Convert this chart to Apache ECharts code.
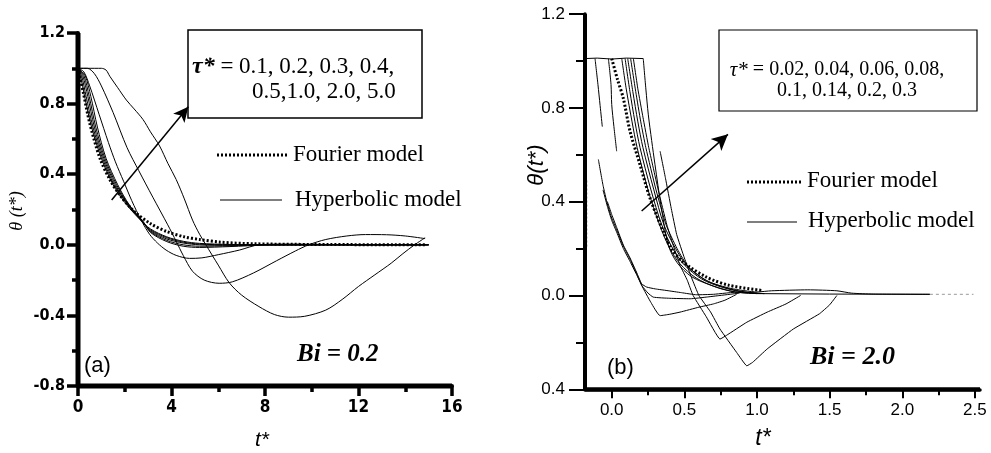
<!DOCTYPE html>
<html><head><meta charset="utf-8">
<script src="https://cdn.jsdelivr.net/npm/echarts@6/dist/echarts.min.js"></script>
<style>html,body{margin:0;padding:0;background:#fff}#c{width:991px;height:453px}</style>
</head><body><div id="c"></div>
<script>
// ---------- Panel (a): Bi = 0.2 ----------
var aXLabels = [0, 4, 8, 12, 16];
var aYLabels = [-0.8, -0.4, 0.0, 0.4, 0.8, 1.2];
var aFourier = [[0,1.0],[0.1,0.94],[0.23,0.86],[0.5,0.69],[0.94,0.49],[1.4,0.36],[1.8,0.28],[2.4,0.19],[3.1,0.12],[3.8,0.075],[4.55,0.045],[5.2,0.03],[6.1,0.015],[7.5,0.006],[10,0.002],[14.85,0.0]];
var aTau01 = [[0,1.0],[0.1,0.96],[0.3,0.83],[0.58,0.667],[1.0,0.49],[1.5,0.34],[2.0,0.24],[2.6,0.15],[3.1,0.09],[3.8,0.045],[4.5,0.02],[5.2,0.008],[6.5,0.002],[8,0.0],[15,0.0]];
var aTau02 = [[0,1.0],[0.15,0.96],[0.35,0.84],[0.64,0.667],[1.05,0.49],[1.55,0.34],[2.05,0.24],[2.65,0.145],[3.1,0.085],[3.8,0.04],[4.5,0.015],[5.2,0.004],[6.5,0.0],[15,0.0]];
var aTau03 = [[0,1.0],[0.2,0.96],[0.42,0.84],[0.70,0.667],[1.1,0.49],[1.6,0.34],[2.1,0.235],[2.7,0.14],[3.1,0.08],[3.8,0.033],[4.5,0.01],[5.2,0.0],[6.5,-0.003],[8,0.0],[15,0.0]];
var aTau04 = [[0,1.0],[0.25,0.96],[0.48,0.84],[0.76,0.667],[1.15,0.49],[1.65,0.34],[2.15,0.23],[2.75,0.135],[3.1,0.075],[3.8,0.025],[4.5,0.0],[5.2,-0.008],[6.5,-0.006],[8,0.0],[15,0.0]];
var aTau05 = [[0,1.0],[0.3,0.96],[0.55,0.84],[0.83,0.667],[1.2,0.49],[1.7,0.34],[2.2,0.225],[2.8,0.13],[3.1,0.07],[3.8,0.018],[4.5,-0.008],[5.2,-0.015],[6.5,-0.01],[8,-0.002],[10,0.0],[15,0.0]];
var aTau10 = [[0,1.0],[0.25,0.98],[0.5,0.9],[0.9,0.74],[1.3,0.58],[1.6,0.47],[1.95,0.36],[2.3,0.25],[2.7,0.14],[3.06,0.06],[3.4,0.01],[3.77,-0.03],[4.2,-0.06],[4.77,-0.077],[5.3,-0.074],[6.0,-0.056],[6.9,-0.03],[7.75,0.0],[9,0.004],[12,0.0],[15,0.0]];
var aTau20 = [[0,1.0],[0.4,1.0],[0.7,0.97],[1.0,0.9],[1.5,0.75],[2.1,0.55],[2.6,0.42],[3.2,0.27],[3.84,0.113],[4.2,0.02],[4.5,-0.06],[4.9,-0.15],[5.4,-0.2],[6.04,-0.218],[6.6,-0.21],[7.5,-0.16],[8.5,-0.09],[9.3,-0.035],[9.87,0.0],[10.6,0.03],[11.5,0.05],[12.3,0.058],[13.2,0.057],[14.0,0.05],[14.85,0.035]];
var aTau50 = [[0,1.0],[1.0,1.0],[1.2,0.99],[1.36,0.955],[1.7,0.89],[2.07,0.82],[2.4,0.77],[2.78,0.71],[3.1,0.64],[3.49,0.56],[3.85,0.46],[4.2,0.37],[4.55,0.26],[4.9,0.14],[5.2,0.06],[5.47,0.0],[6.0,-0.115],[6.47,-0.215],[7.0,-0.285],[7.74,-0.35],[8.4,-0.395],[9.0,-0.41],[9.7,-0.405],[10.6,-0.37],[11.3,-0.31],[12.0,-0.236],[12.7,-0.17],[13.4,-0.104],[13.9,-0.05],[14.4,0.0],[14.85,0.04]];

// ---------- Panel (b): Bi = 2.0 ----------
var bXLabels = [0.0, 0.5, 1.0, 1.5, 2.0, 2.5];
var bXMinor = [0.25, 0.75, 1.25, 1.75, 2.25];
var bYValues = [-0.4, 0.0, 0.4, 0.8, 1.2];
var bYTickLabels = ['0.4', '0.0', '0.4', '0.8', '1.2'];
var bFlatTop = [[-0.184,1.01],[-0.1,1.012],[0.0,1.008],[0.1,1.012],[0.217,1.01]];
var bFourier = [[0.0,1.01],[0.04,0.92],[0.08,0.84],[0.126,0.70],[0.195,0.557],[0.264,0.414],[0.355,0.272],[0.41,0.2],[0.49,0.143],[0.65,0.079],[0.81,0.043],[1.04,0.021]];
var bFourierEdge = [[-0.176,0.49],[-0.176,0.2]];
var bFourierTail = [[2.19,0.005],[2.49,0.005]];
var bLeftA = [[-0.115,1.01],[-0.095,0.90],[-0.08,0.81],[-0.065,0.72]];
var bLeftB = [[-0.023,1.01],[-0.005,0.90],[0.0,0.814],[0.015,0.72],[0.034,0.615]];
var bLeftC = [[-0.092,0.58],[-0.06,0.47],[-0.03,0.39],[0.0,0.33],[0.034,0.28],[0.08,0.21],[0.126,0.155],[0.17,0.095],[0.206,0.043],[0.27,-0.03],[0.333,-0.086],[0.40,-0.08],[0.47,-0.071],[0.60,-0.05],[0.70,-0.036],[0.78,-0.02],[0.86,0.005]];
var bLeftD = [[-0.06,0.45],[-0.03,0.38],[0.0,0.32],[0.034,0.27],[0.08,0.20],[0.126,0.145],[0.17,0.09],[0.21,0.04],[0.25,0.01],[0.286,-0.007],[0.40,-0.012],[0.54,-0.014],[0.65,-0.007],[0.745,0.0],[0.88,0.01]];
var bLeftE = [[-0.03,0.40],[0.0,0.345],[0.034,0.29],[0.08,0.215],[0.126,0.16],[0.17,0.10],[0.206,0.05],[0.24,0.036],[0.30,0.028],[0.38,0.021],[0.48,0.012],[0.585,0.003],[0.70,0.005],[0.88,0.015],[1.0,0.01]];
var bMid1 = [[0.069,1.01],[0.10,0.88],[0.14,0.74],[0.175,0.63],[0.25,0.45],[0.33,0.30],[0.40,0.20],[0.47,0.135],[0.58,0.075],[0.72,0.035],[0.85,0.015],[1.0,0.008]];
var bMid2 = [[0.092,1.01],[0.125,0.87],[0.16,0.74],[0.195,0.63],[0.27,0.45],[0.345,0.30],[0.42,0.20],[0.50,0.13],[0.62,0.07],[0.76,0.035],[0.9,0.015],[1.05,0.008]];
var bMid3 = [[0.11,1.01],[0.145,0.87],[0.18,0.74],[0.215,0.63],[0.29,0.45],[0.36,0.30],[0.44,0.20],[0.52,0.125],[0.65,0.065],[0.80,0.03],[0.95,0.012],[1.05,0.008]];
var bMid4 = [[0.13,1.01],[0.165,0.87],[0.2,0.74],[0.235,0.63],[0.305,0.45],[0.375,0.30],[0.45,0.2],[0.53,0.12],[0.66,0.06],[0.82,0.03],[1.0,0.015],[1.1,0.02],[1.35,0.024],[1.55,0.02],[1.65,0.01],[1.8,0.006],[2.19,0.005]];
var bTop5 = [[0.217,1.01],[0.235,0.88],[0.252,0.77],[0.275,0.66],[0.298,0.557],[0.34,0.38],[0.39,0.214],[0.45,0.14],[0.55,0.08],[0.7,0.04],[0.85,0.015],[1.0,0.008]];
var bDeep1 = [[0.149,1.01],[0.18,0.88],[0.215,0.76],[0.255,0.63],[0.32,0.45],[0.38,0.30],[0.42,0.22],[0.47,0.129],[0.52,0.065],[0.56,0.0],[0.65,-0.09],[0.745,-0.186],[0.79,-0.17],[0.93,-0.114],[1.07,-0.071],[1.2,-0.036],[1.30,0.0]];
var bDeep2 = [[0.333,0.615],[0.37,0.50],[0.41,0.37],[0.447,0.26],[0.50,0.16],[0.55,0.075],[0.60,0.0],[0.68,-0.07],[0.745,-0.143],[0.86,-0.243],[0.93,-0.30],[0.97,-0.285],[1.07,-0.228],[1.25,-0.143],[1.43,-0.078],[1.5,-0.04],[1.55,0.0]];
var bZeroTail = [[1.0,0.008],[1.5,0.006],[2.19,0.005]];

// ---------- axis ranges ----------
var A_X = [0, 16], A_Y = [-0.8, 1.2];
var B_X = [-0.184, 2.535], B_Y = [-0.4, 1.2];

// ---------- build ----------
var narrow = "'Liberation Sans Narrow','DejaVu Sans Condensed',sans-serif";
var sans = "'Liberation Sans',Arial,sans-serif";
var serif = "'Liberation Serif','Times New Roman',serif";
var INK = '#000';

function ln(data, xi, yi, opt) {
  opt = opt || {};
  return {
    type: 'line', data: data, xAxisIndex: xi, yAxisIndex: yi,
    showSymbol: false, symbol: 'none', silent: true, animation: false,
    smooth: opt.smooth === undefined ? 0.3 : opt.smooth,
    clip: opt.clip === undefined ? true : opt.clip,
    z: opt.z || 2,
    lineStyle: { color: opt.color || INK, width: opt.width || 1, type: opt.type || 'solid' }
  };
}
var dotted = { width: 3, type: [2, 2], z: 3 };

var series = [
  ln(aTau01,0,0), ln(aTau02,0,0), ln(aTau03,0,0), ln(aTau04,0,0), ln(aTau05,0,0),
  ln(aTau10,0,0), ln(aTau20,0,0), ln(aTau50,0,0),
  ln(aFourier,0,0,dotted),
  ln(bFlatTop,1,1,{smooth:false}),
  ln(bLeftA,1,1), ln(bLeftB,1,1), ln(bLeftC,1,1,{smooth:0.15}), ln(bLeftD,1,1,{smooth:0.15}), ln(bLeftE,1,1,{smooth:0.15}),
  ln(bMid1,1,1), ln(bMid2,1,1), ln(bMid3,1,1), ln(bMid4,1,1,{smooth:0.2}), ln(bTop5,1,1),
  ln(bDeep1,1,1,{smooth:0.1}), ln(bDeep2,1,1,{smooth:0.1}),
  ln(bZeroTail,1,1,{smooth:false}),
  ln(bFourier,1,1,dotted),
  ln(bFourierEdge,1,1,{width:2,type:[2,2],smooth:false}),
  ln(bFourierTail,1,1,{width:1,type:[3,3],color:'#999',smooth:false}),
  // heavy axis frame lines (drawn along the axis ranges)
  ln([[A_X[0], A_Y[1]], [A_X[0], A_Y[0]], [A_X[1], A_Y[0]]], 0, 0, { width: 5, smooth: false, clip: false, z: 5 }),
  ln([[B_X[0], B_Y[1]], [B_X[0], B_Y[0]], [B_X[1], B_Y[0]]], 1, 1, { width: 4, smooth: false, clip: false, z: 5 })
];

// arrows (annotation, in data coordinates)
series.push({
  type: 'line', data: [[1.44, 0.254]], xAxisIndex: 0, yAxisIndex: 0, showSymbol: false, symbol: 'none',
  silent: true, animation: false, lineStyle: { width: 0 },
  markLine: { silent: true, animation: false, symbol: ['none', 'arrow'], symbolSize: [11, 15],
    label: { show: false }, lineStyle: { color: INK, width: 1.5, type: 'solid' },
    data: [[{ coord: [1.44, 0.254] }, { coord: [4.72, 0.782] }]] }
});
series.push({
  type: 'line', data: [[0.206, 0.36]], xAxisIndex: 1, yAxisIndex: 1, showSymbol: false, symbol: 'none',
  silent: true, animation: false, lineStyle: { width: 0 },
  markLine: { silent: true, animation: false, symbol: ['none', 'arrow'], symbolSize: [12, 16],
    label: { show: false }, lineStyle: { color: INK, width: 1.5, type: 'solid' },
    data: [[{ coord: [0.206, 0.36] }, { coord: [0.80, 0.687] }]] }
});

function txt(x, y, text, font, rot) {
  var s = { x: 0, y: 0, text: text, fill: INK, verticalAlign: 'middle', align: 'left' };
  for (var k in font) s[k] = font[k];
  return { type: 'text', x: x, y: y, rotation: rot || 0, style: s, silent: true, z: 10 };
}
function fmt1(v) { return Number(v).toFixed(1); }

var option = {
  animation: false,
  grid: [
    { left: 78, top: 33, width: 374, height: 353 },
    { left: 585, top: 14, width: 395, height: 375.3 }
  ],
  xAxis: [
    { gridIndex: 0, type: 'value', min: A_X[0], max: A_X[1], interval: 4, position: 'bottom',
      axisLine: { show: true, onZero: false, lineStyle: { color: INK, width: 4 } },
      axisTick: { show: true, length: 10, lineStyle: { color: INK, width: 3.5 } },
      minorTick: { show: true, splitNumber: 2, length: 6, lineStyle: { color: INK, width: 3.5 } },
      splitLine: { show: false },
      axisLabel: { color: INK, fontFamily: narrow, fontWeight: 'bold', fontSize: 17, margin: 13 } },
    { gridIndex: 1, type: 'value', min: B_X[0], max: B_X[1], position: 'bottom',
      axisLine: { show: true, onZero: false, lineStyle: { color: INK, width: 3.5 } },
      axisTick: { show: true, length: 9, customValues: bXLabels, lineStyle: { color: INK, width: 2 } },
      splitLine: { show: false },
      axisLabel: { customValues: bXLabels, color: INK, fontFamily: sans, fontSize: 17, margin: 13, formatter: fmt1 } },
    { gridIndex: 1, type: 'value', min: B_X[0], max: B_X[1], position: 'bottom',
      axisLine: { show: false, onZero: false },
      axisTick: { show: true, length: 6, customValues: bXMinor, lineStyle: { color: INK, width: 2 } },
      splitLine: { show: false }, axisLabel: { show: false } }
  ],
  yAxis: [
    { gridIndex: 0, type: 'value', min: A_Y[0], max: A_Y[1], interval: 0.4,
      axisLine: { show: true, onZero: false, lineStyle: { color: INK, width: 4 } },
      axisTick: { show: true, length: 11, lineStyle: { color: INK, width: 3.5 } },
      minorTick: { show: true, splitNumber: 2, length: 6, lineStyle: { color: INK, width: 3.5 } },
      splitLine: { show: false },
      axisLabel: { color: INK, fontFamily: narrow, fontWeight: 'bold', fontSize: 16, margin: 13, formatter: fmt1 } },
    { gridIndex: 1, type: 'value', min: B_Y[0], max: B_Y[1], interval: 0.4,
      axisLine: { show: true, onZero: false, lineStyle: { color: INK, width: 3.5 } },
      axisTick: { show: true, length: 16, lineStyle: { color: INK, width: 2 } },
      minorTick: { show: true, splitNumber: 2, length: 9, lineStyle: { color: INK, width: 2 } },
      splitLine: { show: false },
      axisLabel: { color: INK, fontFamily: sans, fontSize: 17, margin: 20,
        formatter: function (v) {
          for (var i = 0; i < bYValues.length; i++) if (Math.abs(bYValues[i] - v) < 1e-6) return bYTickLabels[i];
          return '';
        } } }
  ],
  series: series,
  graphic: [
    // panel (a)
    { type: 'rect', shape: { x: 188, y: 30, width: 234, height: 88 }, style: { fill: 'rgba(0,0,0,0)', stroke: INK, lineWidth: 1.5 }, silent: true, z: 9 },
    txt(192, 67, '{t|τ*} = 0.1, 0.2, 0.3, 0.4,', { fontFamily: serif, fontSize: 23, rich: { t: { fontFamily: serif, fontSize: 24, fontStyle: 'italic', fontWeight: 'bold' } } }),
    txt(252, 92, '0.5,1.0, 2.0, 5.0', { fontFamily: serif, fontSize: 23 }),
    { type: 'line', shape: { x1: 217, y1: 155, x2: 287, y2: 155 }, style: { stroke: INK, lineWidth: 3, lineDash: [2, 2] }, silent: true, z: 9 },
    txt(293, 155, 'Fourier model', { fontFamily: serif, fontSize: 23 }),
    { type: 'line', shape: { x1: 220, y1: 200, x2: 282, y2: 200 }, style: { stroke: INK, lineWidth: 1.2 }, silent: true, z: 9 },
    txt(295, 200, 'Hyperbolic model', { fontFamily: serif, fontSize: 23 }),
    txt(297, 355, 'Bi = 0.2', { fontFamily: serif, fontSize: 25, fontStyle: 'italic', fontWeight: 'bold' }),
    txt(84, 366, '(a)', { fontFamily: sans, fontSize: 22 }),
    txt(17, 211, 'θ (t*)', { fontFamily: serif, fontSize: 18, fontStyle: 'italic', align: 'center' }, Math.PI / 2),
    txt(262, 440, 't*', { fontFamily: sans, fontSize: 21, fontStyle: 'italic', align: 'center' }),
    // panel (b)
    { type: 'rect', shape: { x: 719, y: 30, width: 258, height: 81 }, style: { fill: 'rgba(0,0,0,0)', stroke: INK, lineWidth: 1.2 }, silent: true, z: 9 },
    txt(837, 70, '{t|τ*} = 0.02, 0.04, 0.06, 0.08,', { fontFamily: serif, fontSize: 20, align: 'center', rich: { t: { fontFamily: serif, fontSize: 21, fontStyle: 'italic' } } }),
    txt(847, 91, '0.1, 0.14, 0.2, 0.3', { fontFamily: serif, fontSize: 20, align: 'center' }),
    { type: 'line', shape: { x1: 747, y1: 182, x2: 803, y2: 182 }, style: { stroke: INK, lineWidth: 3, lineDash: [2, 2] }, silent: true, z: 9 },
    txt(807, 181, 'Fourier model', { fontFamily: serif, fontSize: 23 }),
    { type: 'line', shape: { x1: 747, y1: 222, x2: 797, y2: 222 }, style: { stroke: INK, lineWidth: 1.2 }, silent: true, z: 9 },
    txt(808, 221, 'Hyperbolic model', { fontFamily: serif, fontSize: 23 }),
    txt(810, 357, 'Bi = 2.0', { fontFamily: serif, fontSize: 26, fontStyle: 'italic', fontWeight: 'bold' }),
    txt(607, 368, '(b)', { fontFamily: sans, fontSize: 22 }),
    txt(537, 165, 'θ(t*)', { fontFamily: sans, fontSize: 22, fontStyle: 'italic', align: 'center' }, Math.PI / 2),
    txt(763, 439, 't*', { fontFamily: sans, fontSize: 23, fontStyle: 'italic', align: 'center' })
  ]
};
var chart = echarts.init(document.getElementById('c'), null, { renderer: 'canvas' });
chart.setOption(option);
</script></body></html>
